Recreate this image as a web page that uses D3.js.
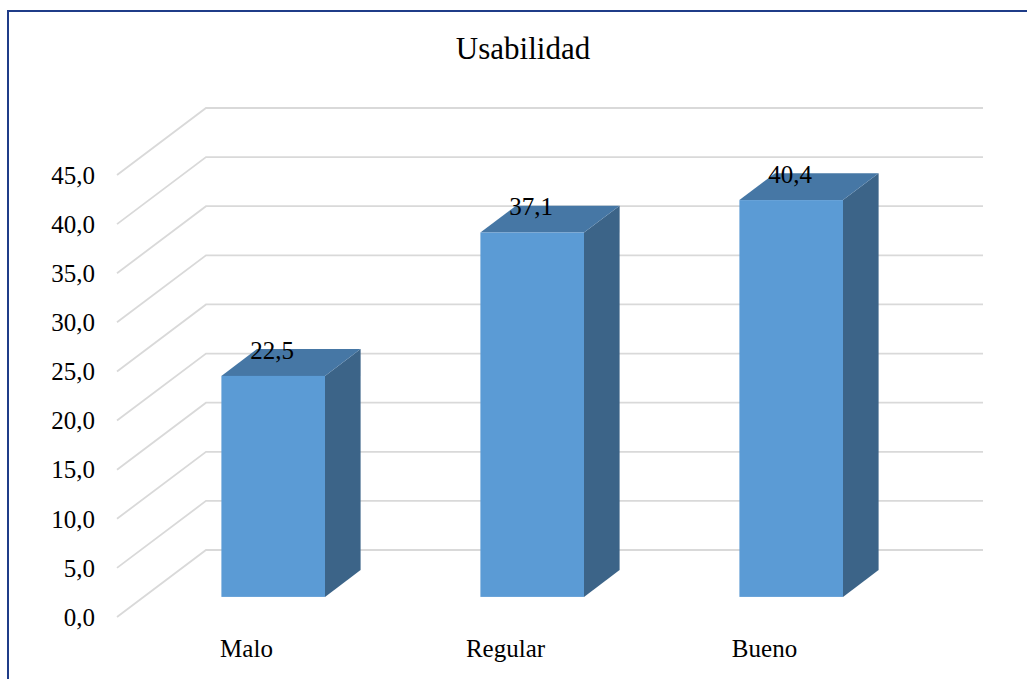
<!DOCTYPE html>
<html>
<head>
<meta charset="utf-8">
<script src="https://cdn.jsdelivr.net/npm/d3@7"></script>
<style>
  html, body { margin: 0; padding: 0; background: #fff; }
</style>
</head>
<body>
<div class="chart"></div>
<script>
const categories = ["Malo", "Regular", "Bueno"];
const values = [22.5, 37.1, 40.4];
const valueLabels = ["22,5", "37,1", "40,4"];
const yTicks = [0, 5, 10, 15, 20, 25, 30, 35, 40, 45];

const W = 1027, H = 679;
const serif = "'Liberation Serif', 'Times New Roman', Times, serif";
// floor depth (3D offset of the back wall), bar sits between 30% and 70% of it
const depthX = 89, depthY = -67;
const barFront = 0.3, barBack = 0.7;

const svg = d3.select(".chart").append("svg")
  .attr("width", W)
  .attr("height", H)
  .attr("font-family", serif);

svg.append("rect")
  .attr("width", W).attr("height", H)
  .attr("fill", "#fff");

// frame
svg.append("rect")
  .attr("x", 8).attr("y", 11)
  .attr("width", W + 10).attr("height", H + 10)
  .attr("fill", "none")
  .attr("stroke", "#1f3c88")
  .attr("stroke-width", 2);

svg.append("text")
  .attr("x", 523)
  .attr("y", 59)
  .attr("text-anchor", "middle")
  .attr("font-family", serif)
  .attr("font-size", "31px")
  .text("Usabilidad");

const x = d3.scaleBand()
  .domain(categories)
  .range([117, 894])
  .paddingInner(0.6)
  .paddingOuter(0.3);

const y = d3.scaleLinear()
  .domain([0, 45])
  .range([617, 175]);

// gridlines: diagonal on the side wall + horizontal on the back wall
const grid = svg.append("g");
grid.selectAll("path")
  .data(yTicks)
  .enter()
  .append("path")
  .attr("d", d => {
    const y0 = y(d);
    return `M117,${y0} L${117 + depthX},${y0 + depthY} L${894 + depthX},${y0 + depthY}`;
  })
  .attr("fill", "none")
  .attr("stroke", "#d9d9d9")
  .attr("stroke-width", 1.8);

// y tick labels
svg.append("g").selectAll("text")
  .data(yTicks)
  .enter()
  .append("text")
  .attr("x", 95)
  .attr("y", d => y(d))
  .attr("dy", "0.35em")
  .attr("text-anchor", "end")
  .attr("font-family", serif)
  .attr("font-size", "25px")
  .text(d => d3.format(".1f")(d).replace(".", ","));

// bars
const bars = svg.append("g").selectAll("g")
  .data(categories)
  .enter()
  .append("g");

function pt(px, py) { return px + "," + py; }

bars.each(function(c, i) {
  const g = d3.select(this);
  const fx = x(c) + barFront * depthX, fy = barFront * depthY;
  const bx = x(c) + barBack * depthX, by = barBack * depthY;
  const w = x.bandwidth();
  const top = y(values[i]), base = y(0);

  // side
  g.append("polygon")
    .attr("points", [pt(fx + w, top + fy), pt(bx + w, top + by), pt(bx + w, base + by), pt(fx + w, base + fy)].join(" "))
    .attr("fill", "#3c6488");
  // top
  g.append("polygon")
    .attr("points", [pt(fx, top + fy), pt(bx, top + by), pt(bx + w, top + by), pt(fx + w, top + fy)].join(" "))
    .attr("fill", "#4677a5");
  // front
  g.append("rect")
    .attr("x", fx)
    .attr("y", top + fy)
    .attr("width", w)
    .attr("height", base - top)
    .attr("fill", "#5b9bd5");
});

// data labels
svg.append("g").selectAll("text")
  .data(categories)
  .enter()
  .append("text")
  .attr("x", d => x(d) + barFront * depthX + x.bandwidth() / 2 - 1)
  .attr("y", (d, i) => y(values[i]) + barFront * depthY - 17)
  .attr("text-anchor", "middle")
  .attr("font-family", serif)
  .attr("font-size", "25px")
  .text((d, i) => valueLabels[i]);

// category labels
svg.append("g").selectAll("text")
  .data(categories)
  .enter()
  .append("text")
  .attr("x", d => x(d) + x.bandwidth() / 2)
  .attr("y", 657)
  .attr("text-anchor", "middle")
  .attr("font-family", serif)
  .attr("font-size", "25px")
  .text(d => d);
</script>
</body>
</html>
